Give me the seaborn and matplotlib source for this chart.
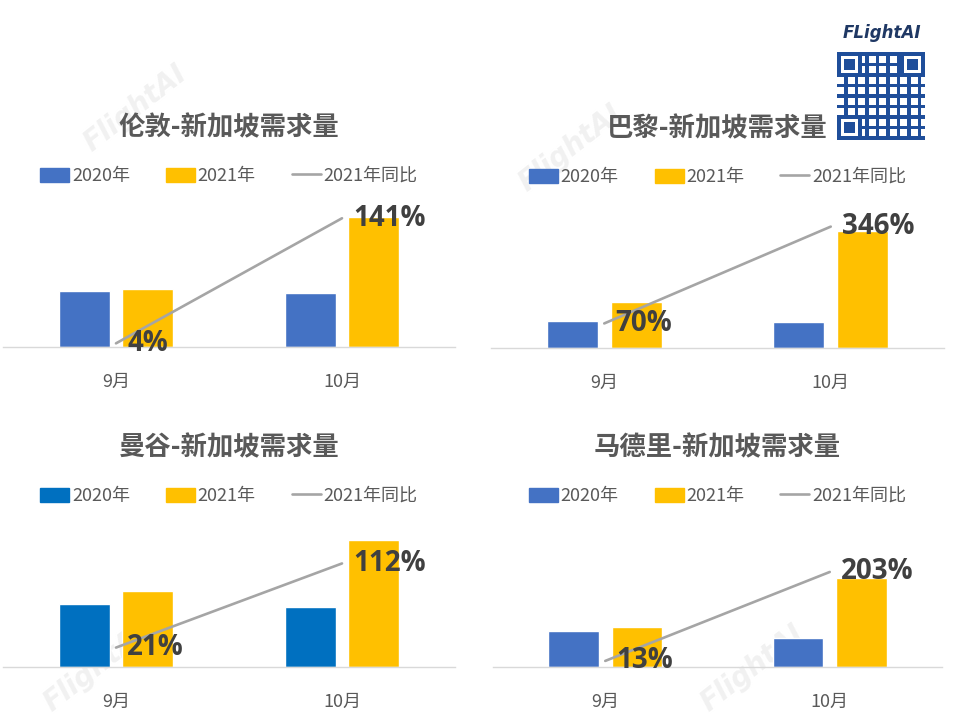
import numpy as np
import pandas as pd
import matplotlib
matplotlib.use("Agg")
import matplotlib.pyplot as plt
import seaborn as sns
from matplotlib.patches import Patch
from matplotlib.lines import Line2D

# 数据（柱高为相对需求量，从图中读取）
months = ["9月", "10月"]
routes = ["伦敦-新加坡需求量", "巴黎-新加坡需求量", "曼谷-新加坡需求量", "马德里-新加坡需求量"]
demand_2020 = [[56, 54], [27, 26], [63, 60], [36, 29]]
demand_2021 = [[58, 130], [46, 117], [76, 127], [40, 89]]
yoy_2021 = [[4, 141], [70, 346], [21, 112], [13, 203]]
yoy_max = [161, 419, 159, 314]
series_names = ["2020年", "2021年", "2021年同比"]

sns.set_theme(style="white")
plt.rcParams["font.family"] = ["Noto Sans CJK SC", "DejaVu Sans"]

blue_colors = ["#4472C4", "#4472C4", "#0070C0", "#4472C4"]
yellow = "#FFC000"
gray_line = "#A5A5A5"
text_gray = "#595959"

fig = plt.figure(figsize=(9.6, 7.2), dpi=100)
W, H = 960, 720
# 每个面板：左、右、基线（像素）
boxes = [(3, 455, 347), (491, 944, 348), (3, 455, 667), (493, 942, 667)]
ax_h = 147

for k, (x0, x1, base) in enumerate(boxes):
    ax = fig.add_axes([x0 / W, 1 - base / H, (x1 - x0) / W, ax_h / H])
    ax.set_facecolor("none")
    df = pd.DataFrame({
        "month": months * 2,
        "year": ["2020年"] * 2 + ["2021年"] * 2,
        "value": demand_2020[k] + demand_2021[k],
    })
    sns.barplot(data=df, x="month", y="value", hue="year", ax=ax,
                palette=[blue_colors[k], yellow], width=0.565, gap=0.2,
                saturation=1, legend=False)
    ax.set_ylim(0, ax_h)
    ax.set_xlim(-0.5, 1.5)
    ax.set_xlabel("")
    ax.set_ylabel("")
    ax.set_yticks([])
    for s in ["top", "right", "left"]:
        ax.spines[s].set_visible(False)
    ax.spines["bottom"].set_color("#D9D9D9")
    ax.spines["bottom"].set_linewidth(1)
    ax.tick_params(axis="x", length=0, pad=19, labelsize=13, labelcolor=text_gray)

    ax2 = ax.twinx()
    ax2.set_facecolor("none")
    sns.lineplot(x=np.arange(len(months)), y=yoy_2021[k], ax=ax2,
                 color=gray_line, linewidth=1.9)
    ax2.set_ylim(0, yoy_max[k])
    ax2.set_yticks([])
    ax2.set_ylabel("")
    for s in ax2.spines.values():
        s.set_visible(False)
    for i, v in enumerate(yoy_2021[k]):
        ax2.annotate(f"{v}%", (i, v), xytext=(8, 0), textcoords="offset points",
                     ha="left", va="center", fontsize=20, fontweight="bold",
                     color="#404040", family=["Open Sans", "DejaVu Sans"])

    ax.text(0.5, 1 + 72 / ax_h, routes[k], transform=ax.transAxes,
            ha="center", va="center", fontsize=19, fontweight="bold", color=text_gray)

    handles = [Patch(color=blue_colors[k]), Patch(color=yellow),
               Line2D([0], [0], color=gray_line, linewidth=1.9)]
    ax.legend(handles, series_names, loc="center", bbox_to_anchor=(0.5, 1 + 24 / ax_h),
              ncol=3, frameon=False, fontsize=13, labelcolor=text_gray,
              handlelength=1.6, handleheight=0.8, handletextpad=0.15, columnspacing=2.0)

# 水印
for wx, wy in [(135, 108), (570, 148), (95, 668), (752, 668)]:
    fig.text(wx / W, 1 - wy / H, "FlightAI", rotation=38, ha="center", va="center",
             fontsize=20, fontstyle="italic", fontweight="bold", color="#F1F1F1",
             family=["DejaVu Sans"], zorder=-1)

# 右上角标志
fig.text(882 / W, 1 - 33 / H, "FLightAI", ha="center", va="center", fontsize=12,
         fontstyle="italic", fontweight="bold", color="#1F3864", family=["DejaVu Sans"])
qr = fig.add_axes([836 / W, 1 - 140 / H, 89 / W, 88 / H])
n = 25
ii, jj = np.indices((n, n))
grid = ((ii * 7 + jj * 3 + ii * jj) % 3 == 0).astype(float)
for (r, c) in [(0, 0), (0, n - 7), (n - 7, 0)]:
    grid[r:r + 7, c:c + 7] = 1
    grid[r + 1:r + 6, c + 1:c + 6] = 0
    grid[r + 2:r + 5, c + 2:c + 5] = 1
qr.imshow(grid, cmap=matplotlib.colors.ListedColormap(["#FFFFFF", "#1F4E9A"]),
          interpolation="nearest")
qr.axis("off")

fig.savefig("out.png", dpi=100)
